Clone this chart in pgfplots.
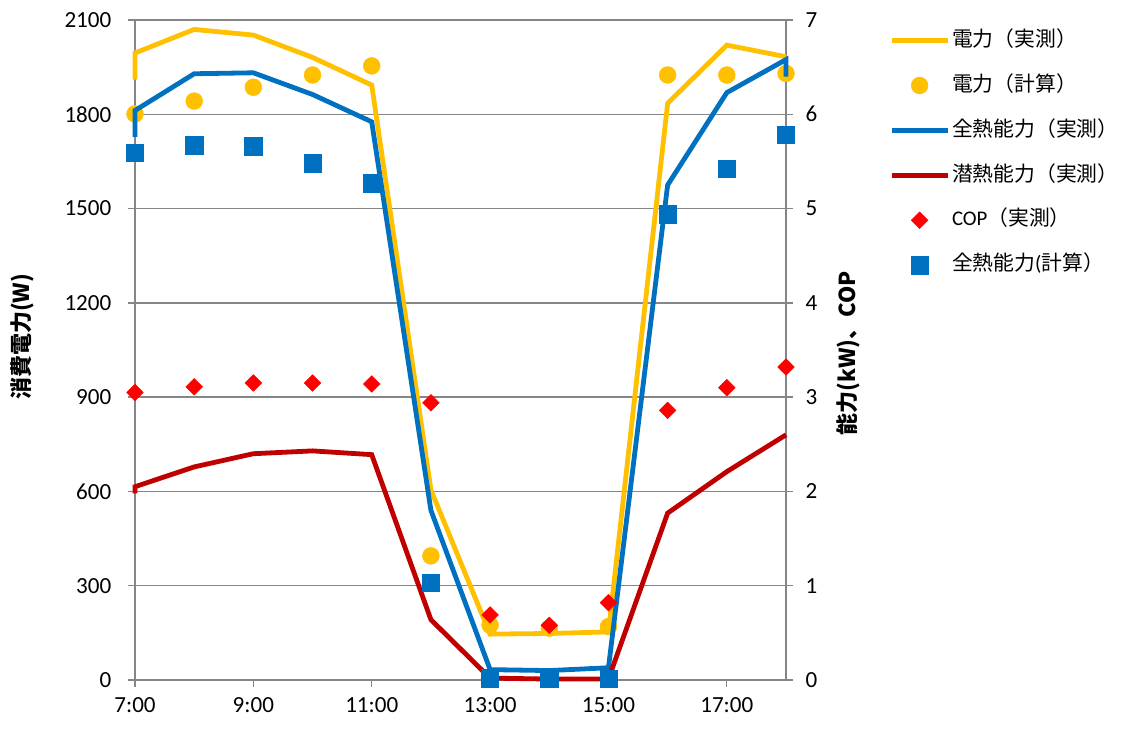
\documentclass[border=0pt]{standalone}
\usepackage{pgfplots}
\pgfplotsset{compat=1.18}
\usepackage{fontspec}
\setmainfont{Carlito}
\newfontfamily\jp{Noto Sans CJK JP}
\definecolor{cY}{HTML}{FFC000}
\definecolor{cB}{HTML}{0070C0}
\definecolor{cR}{HTML}{C00000}
\definecolor{cD}{HTML}{FF0000}
\definecolor{cG}{HTML}{868686}
\begin{document}
\begin{tikzpicture}
\useasboundingbox (0,0) rectangle (840.75pt,546.75pt);
\pgfplotsset{
  base/.style={
    scale only axis, width=488.25pt, height=495pt,
    at={(101.25pt,36.75pt)}, anchor=south west,
    xmin=7, xmax=18, clip=false,
    tick align=outside, major tick length=5.25pt,
    tick style={cG, line width=1pt},
    axis line style={cG, line width=1.1pt},
    /pgf/number format/assume math mode=true,
    /pgf/number format/1000 sep={},
    tick label style={font=\fontsize{17.3}{20}\selectfont, black},
    legend image code/.code={\draw[mark repeat=2,mark phase=2,#1] plot coordinates {(0pt,0pt) (21pt,0pt) (42pt,0pt)};},
  }}
\begin{axis}[base,
  ymin=0, ymax=2100, ytick={0,300,...,2100},
  xtick={7,9,11,13,15,17},
  xticklabels={7:00,9:00,11:00,13:00,15:00,17:00},
  xtick pos=bottom, ytick pos=left,
  yticklabel style={xshift=-9pt},
  xticklabel style={yshift=-4.5pt},
  ymajorgrids, grid style={cG, line width=1pt},
  ylabel={\jp\bfseries 消費電力(W)},
  every axis y label/.style={at={(axis description cs:-0.1736,0.52)}, rotate=90, anchor=center, font=\fontsize{16.5}{20}\selectfont},
]
\addplot[cY, line width=3.6pt] coordinates {
(7,1910) (7,1995) (8,2070) (9,2052) (10,1981) (11,1893) (12,605) (13,146) (14,148) (15,153) (16,1835) (17,2020) (18,1983)};
\addplot[only marks, mark=*, mark size=6.3pt, cY, mark options={draw=cY, fill=cY}] coordinates {
(7,1801) (8,1842) (9,1886) (10,1925) (11,1954) (12,395) (13,175) (14,165) (15,170) (16,1925) (17,1925) (18,1930)};
\end{axis}
\begin{axis}[base,
  ymin=0, ymax=7, ytick={0,1,...,7},
  xtick=\empty, ytick pos=right,
  yticklabel style={xshift=6pt},
  axis line style={draw=none},
  ylabel={\jp\bfseries 能力(kW)、COP},
  every axis y label/.style={at={(axis description cs:1.095,0.495)}, rotate=90, anchor=center, font=\fontsize{16.5}{20}\selectfont},
  legend style={at={(axis description cs:1.152,0.993)}, anchor=north west, draw=none, fill=none,
    font=\fontsize{15.6}{19}\selectfont, row sep=14.2pt,
    nodes={text height=12.5pt, text depth=4pt, inner sep=1.5pt}},
  legend cell align=left,
]
\addlegendimage{cY, line width=3.6pt}
\addlegendentry{{\jp 電力（実測）}}
\addlegendimage{only marks, mark=*, mark size=6.3pt, cY, mark options={draw=cY, fill=cY}}
\addlegendentry{{\jp 電力（計算）}}
\addplot[cB, line width=3.6pt] coordinates {
(7,5.76) (7,6.04) (8,6.43) (9,6.44) (10,6.21) (11,5.92) (12,1.80) (13,0.11) (14,0.10) (15,0.13) (16,5.25) (17,6.23) (18,6.58) (18,6.40)};
\addlegendentry{{\jp 全熱能力（実測）}}
\addplot[cR, line width=3.6pt] coordinates {
(7,1.98) (7,2.05) (8,2.26) (9,2.40) (10,2.43) (11,2.39) (12,0.64) (13,0.02) (14,0.01) (15,0.01) (16,1.77) (17,2.21) (18,2.60)};
\addlegendentry{{\jp 潜熱能力（実測）}}
\addplot[only marks, mark=square*, mark size=4.4pt, cD, mark options={rotate=45, draw=cD, fill=cD}] coordinates {
(7,3.05) (8,3.11) (9,3.15) (10,3.15) (11,3.14) (12,2.94) (13,0.69) (14,0.58) (15,0.82) (16,2.86) (17,3.10) (18,3.32)};
\addlegendentry{COP{\jp （実測）}}
\addplot[only marks, mark=square*, mark size=6.5pt, cB, mark options={draw=cB, fill=cB}] coordinates {
(7,5.59) (8,5.67) (9,5.66) (10,5.48) (11,5.27) (12,1.03) (13,0.02) (14,0.01) (15,0.01) (16,4.94) (17,5.42) (18,5.78)};
\addlegendentry{{\jp 全熱能力}(\jp 計算）}
\end{axis}
\end{tikzpicture}
\end{document}
